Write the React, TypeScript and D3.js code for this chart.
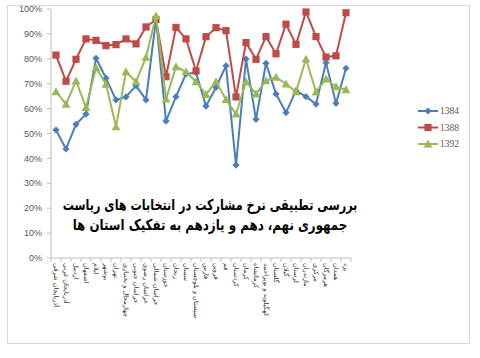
import React, { useLayoutEffect, useRef, useState } from "react";
import * as d3 from "d3";

const provinces = [
  "آذربایجان شرقی", "آذربایجان غربی", "اردبیل", "اصفهان", "ایلام", "بوشهر", "تهران",
  "چهارمحال و بختیاری", "خراسان جنوبی", "خراسان رضوی", "خراسان شمالی", "خوزستان",
  "زنجان", "سمنان", "سیستان و بلوچستان", "فارس", "قزوین", "قم", "کردستان", "کرمان",
  "کرمانشاه", "کهگیلویه و بویراحمد", "گلستان", "گیلان", "لرستان", "مازندران",
  "مرکزی", "هرمزگان", "همدان", "یزد",
];

const s1384 = [51.4, 43.8, 53.7, 57.8, 80.2, 72.2, 63.5, 64.7, 69.2, 63.5, 96.0, 55.0, 64.8, 73.9, 74.5,
  61.0, 68.5, 77.2, 37.3, 79.9, 55.7, 78.2, 65.9, 58.4, 67.2, 64.8, 61.8, 78.4, 62.1, 76.2];
const s1388 = [81.5, 71.0, 79.8, 88.0, 87.4, 85.3, 85.7, 88.0, 86.0, 92.8, 95.8, 72.8, 92.6, 88.0, 75.1,
  88.9, 92.5, 91.3, 64.7, 86.5, 79.8, 88.9, 82.0, 93.9, 85.8, 98.8, 88.9, 80.7, 81.2, 98.5];
const s1392 = [66.8, 61.8, 71.1, 60.5, 76.4, 69.8, 52.7, 74.8, 70.8, 80.6, 97.2, 63.9, 76.8, 74.8, 70.8,
  65.7, 70.8, 63.7, 57.8, 70.8, 65.9, 71.2, 72.6, 69.9, 66.8, 79.9, 66.7, 71.9, 68.8, 67.6];

const seriesNames = ["1384", "1388", "1392"];
const seriesColors = ["#4a7ebb", "#be4b48", "#98b954"];
const yTicks = [0, 10, 20, 30, 40, 50, 60, 70, 80, 90, 100];
const titleLines = [
  "بررسی تطبیقی نرخ مشارکت  در انتخابات های ریاست",
  "جمهوری نهم، دهم و یازدهم به تفکیک استان ها",
];
const titleWidths = [295, 275];

function Marker({ kind, x, y, color }: { kind: number; x: number; y: number; color: string }) {
  if (kind === 0) {
    const r = 3.6;
    return <path d={`M${x},${y - r}L${x + r},${y}L${x},${y + r}L${x - r},${y}Z`} fill={color} />;
  }
  if (kind === 1) {
    const r = 3.6;
    return <rect x={x - r} y={y - r} width={2 * r} height={2 * r} fill={color} />;
  }
  const r = 4.4;
  return <path d={`M${x},${y - r}L${x + r},${y + r * 0.8}L${x - r},${y + r * 0.8}Z`} fill={color} />;
}

export default function App() {
  const W = 480, H = 358;
  const x = d3.scaleBand<string>().domain(provinces).range([51, 351]);
  const y = d3.scaleLinear().domain([0, 100]).range([258, 9]);
  const data = [s1384, s1388, s1392];
  const line = d3.line<number>()
    .x((_, i) => (x(provinces[i]) as number) + x.bandwidth() / 2)
    .y((d) => y(d));
  const axisColor = "#bfbfbf";

  const titleRefs = useRef<(SVGTextElement | null)[]>([]);
  const [scales, setScales] = useState<number[]>([1, 1]);
  useLayoutEffect(() => {
    const s = titleRefs.current.map((el, i) => {
      if (!el) return 1;
      const w = el.getBBox().width;
      return w > 0 ? titleWidths[i] / w : 1;
    });
    setScales(s);
  }, []);

  return (
    <svg width={W} height={H} style={{ position: "absolute", left: 0, top: 0, background: "#fff" }}>
      <rect x={7.5} y={5.5} width={462} height={338} fill="#fff" stroke="#d9d9d9" strokeWidth={1} />
      {/* y axis */}
      <line x1={51} x2={51} y1={y(100)} y2={y(0)} stroke={axisColor} />
      {yTicks.map((t) => (
        <g key={t}>
          <line x1={47} x2={51} y1={y(t)} y2={y(t)} stroke={axisColor} />
          <text x={42} y={y(t)} dy="0.35em" textAnchor="end" fontSize={9}
            fontFamily="Liberation Sans, Arial, sans-serif" fill="#595959">{t}%</text>
        </g>
      ))}
      {/* x axis */}
      <line x1={51} x2={351} y1={258} y2={258} stroke={axisColor} />
      {d3.range(provinces.length + 1).map((i) => {
        const xx = 51 + i * x.step();
        return <line key={i} x1={xx} x2={xx} y1={258} y2={262} stroke={axisColor} />;
      })}
      {provinces.map((p) => {
        const cx = (x(p) as number) + x.bandwidth() / 2;
        return (
          <text key={p} transform={`translate(${cx - 2},263) rotate(90)`} fontSize={6.5}
            fontFamily="DejaVu Sans, sans-serif" fill="#333" textAnchor="start">{p}</text>
        );
      })}
      {/* series */}
      {data.map((s, k) => (
        <g key={k}>
          <path d={line(s) || ""} fill="none" stroke={seriesColors[k]} strokeWidth={2} strokeLinejoin="round" />
          {s.map((v, i) => (
            <Marker key={i} kind={k} x={(x(provinces[i]) as number) + x.bandwidth() / 2} y={y(v)} color={seriesColors[k]} />
          ))}
        </g>
      ))}
      {/* title */}
      {titleLines.map((t, i) => (
        <g key={i} transform={`translate(210,${210 + i * 20}) scale(${scales[i]},1)`}>
          <text ref={(el) => { titleRefs.current[i] = el; }} x={0} y={0} textAnchor="middle"
            fontSize={15} fontWeight="bold" fontFamily="DejaVu Sans, sans-serif" fill="#000">{t}</text>
        </g>
      ))}
      {/* legend */}
      {seriesNames.map((n, k) => {
        const ly = 111 + k * 16.5;
        return (
          <g key={n}>
            <line x1={418} x2={438} y1={ly} y2={ly} stroke={seriesColors[k]} strokeWidth={2} />
            <Marker kind={k} x={428} y={ly} color={seriesColors[k]} />
            <text x={440} y={ly} dy="0.35em" fontSize={9.5}
              fontFamily="Liberation Serif, serif" fill="#595959">{n}</text>
          </g>
        );
      })}
    </svg>
  );
}
